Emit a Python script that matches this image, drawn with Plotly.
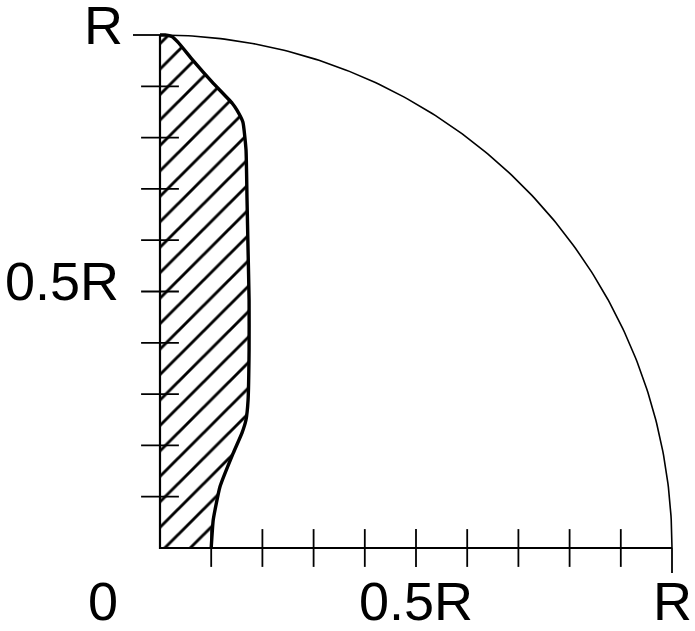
import numpy as np
import plotly.graph_objects as go

R = 1.0
# boundary of the hatched zone, from the bottom axis up to the top (fractions of R)
bnd_x = [0.100, 0.104, 0.117, 0.143, 0.160, 0.168, 0.172, 0.174, 0.174, 0.172, 0.170, 0.168, 0.162,
         0.150, 0.141, 0.102, 0.064, 0.035, 0.023, 0.010, 0.0]
bnd_y = [0.0, 0.055, 0.119, 0.185, 0.224, 0.250, 0.288, 0.386, 0.483, 0.581, 0.678, 0.776, 0.830,
         0.854, 0.867, 0.908, 0.951, 0.986, 0.997, 1.0, 1.0]

tick_vals = [0.1, 0.2, 0.3, 0.4, 0.5, 0.6, 0.7, 0.8, 0.9]
label_vals = [0.5, 1.0]
label_text = ["0.5R", "R"]

FONT = "Liberation Sans, Arial, sans-serif"
FS = 54

fig = go.Figure()

# hatched fill
fig.add_trace(go.Scatter(
    x=bnd_x + [0.0], y=bnd_y + [0.0], mode="lines", fill="toself",
    line=dict(width=0, color="black"), fillcolor="white",
    fillpattern=dict(shape="/", fgcolor="black", bgcolor="white", fgopacity=1,
                     size=18, solidity=0.16),
    hoverinfo="skip", showlegend=False))

# boundary curve
fig.add_trace(go.Scatter(x=bnd_x, y=bnd_y, mode="lines",
                         line=dict(color="black", width=3.4, shape="spline", smoothing=0.4),
                         hoverinfo="skip", showlegend=False))

# quarter circle of radius R
th = np.linspace(0, np.pi / 2, 200)
fig.add_trace(go.Scatter(x=R * np.cos(th), y=R * np.sin(th), mode="lines",
                         line=dict(color="black", width=1.6), hoverinfo="skip", showlegend=False))

# axes lines
fig.add_trace(go.Scatter(x=[0, 0, R], y=[R, 0, 0], mode="lines",
                         line=dict(color="black", width=2.2), hoverinfo="skip", showlegend=False))

# crossing ticks
fig.add_trace(go.Scatter(x=tick_vals, y=[0] * len(tick_vals), mode="markers",
                         marker=dict(symbol="line-ns", size=27, line=dict(color="black", width=1.8)),
                         hoverinfo="skip", showlegend=False))
fig.add_trace(go.Scatter(x=[0] * len(tick_vals), y=tick_vals, mode="markers",
                         marker=dict(symbol="line-ew", size=27, line=dict(color="black", width=1.8)),
                         hoverinfo="skip", showlegend=False))

# end ticks at R (outside only)
fig.add_shape(type="line", xref="x", yref="y", x0=R, x1=R, y0=0, y1=-25 / 513,
              line=dict(color="black", width=1.8))
fig.add_shape(type="line", xref="x", yref="y", x0=-27 / 512, x1=0, y0=R, y1=R,
              line=dict(color="black", width=1.8))

# labels
ann = []
for v, t in zip(label_vals, label_text):
    top = v == 1.0
    ann.append(dict(x=0, y=v, xref="x", yref="y", text=t, showarrow=False,
                    xanchor="right", yanchor="middle", xshift=(-35 if top else -39),
                    yshift=(10 if top else 10.5),
                    font=dict(family=FONT, size=FS, color="black")))
    ann.append(dict(x=v, y=0, xref="x", yref="y", text=t, showarrow=False,
                    xanchor="center", yanchor="middle", yshift=-53,
                    font=dict(family=FONT, size=FS, color="black")))
ann.append(dict(x=0, y=0, xref="x", yref="y", text="0", showarrow=False,
                xanchor="right", yanchor="middle", xshift=-40, yshift=-53,
                font=dict(family=FONT, size=FS, color="black")))

fig.update_layout(
    width=695, height=631, margin=dict(l=0, r=0, t=0, b=0),
    paper_bgcolor="white", plot_bgcolor="white",
    xaxis=dict(range=[-160 / 512, 535 / 512], visible=False, fixedrange=True),
    yaxis=dict(range=[-83 / 513, 548 / 513], visible=False, fixedrange=True),
    annotations=ann, showlegend=False)

fig.write_html("out.html", config={"displayModeBar": False},
               post_script="document.body.style.margin='0';document.body.style.overflow='hidden';")
